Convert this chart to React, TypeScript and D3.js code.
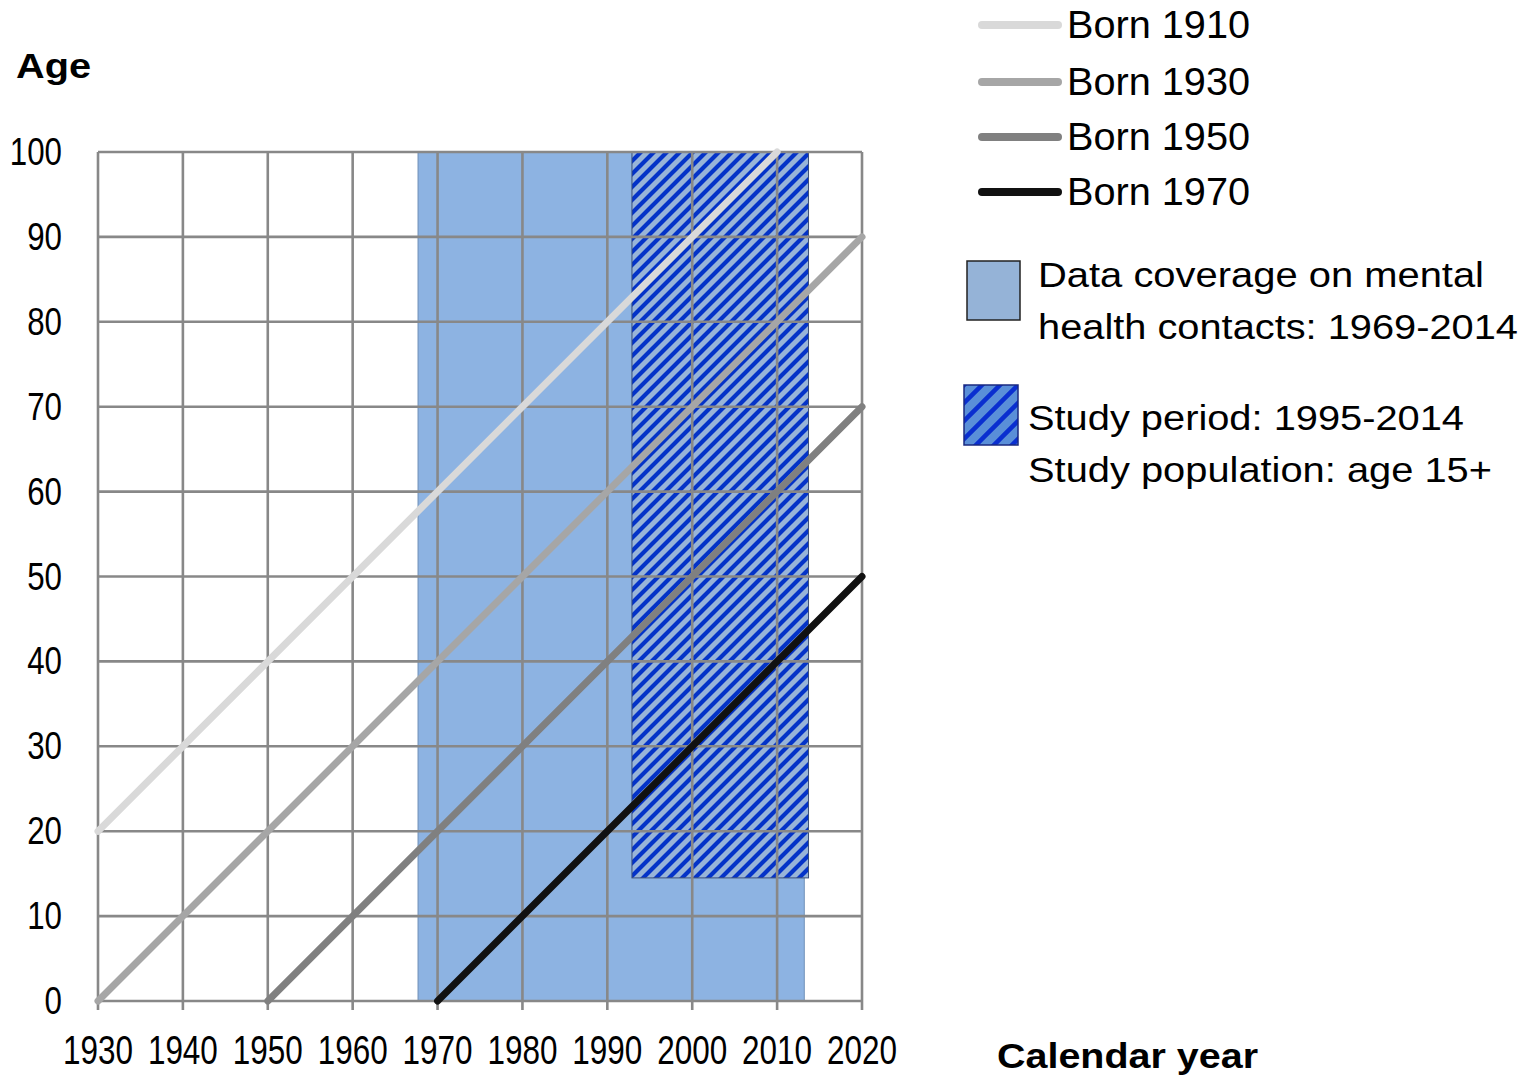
import React from "react";
import * as d3 from "d3";

const xTicks = [1930, 1940, 1950, 1960, 1970, 1980, 1990, 2000, 2010, 2020];
const yTicks = [0, 10, 20, 30, 40, 50, 60, 70, 80, 90, 100];

const cohortLabels = ["Born 1910", "Born 1930", "Born 1950", "Born 1970"];
const born1910: [number, number][] = [[1930, 20], [2010, 100]];
const born1930: [number, number][] = [[1930, 0], [2020, 90]];
const born1950: [number, number][] = [[1950, 0], [2020, 70]];
const born1970: [number, number][] = [[1970, 0], [2020, 50]];
const cohortSeries = [born1910, born1930, born1950, born1970];
const cohortColors = ["#d9d9d9", "#a6a6a6", "#808080", "#111111"];

// shaded regions
const coverageYears = [1967.7, 2013.2];
const coverageAges = [0, 100];
const studyYears = [1992.9, 2013.7];
const studyAges = [14.5, 100];

const coverageLabel = ["Data coverage on mental", "health contacts: 1969-2014"];
const studyLabel = ["Study period: 1995-2014", "Study population: age 15+"];

const FONT = "'Liberation Sans', Arial, sans-serif";

export default function App() {
  const x = d3.scaleLinear().domain([1930, 2020]).range([98, 862]);
  const y = d3.scaleLinear().domain([0, 100]).range([1001, 152]);
  const line = d3
    .line<[number, number]>()
    .x((d) => x(d[0]))
    .y((d) => y(d[1]));

  const tickW = (s: string) => s.length * 17.4;

  return (
    <svg
      width={1534}
      height={1082}
      style={{ position: "absolute", left: 0, top: 0, background: "#fff" }}
      fontFamily={FONT}
    >
      <defs>
        <pattern id="hatch" patternUnits="userSpaceOnUse" width={13} height={13}>
          <rect width={13} height={13} fill="#98b4d8" />
          <path d="M-3,3 L3,-3 M0,13 L13,0 M10,16 L16,10" stroke="#0433c8" strokeWidth={4.2} />
        </pattern>
        <pattern id="hatchLegend" patternUnits="userSpaceOnUse" width={18} height={18} x={964} y={385}>
          <rect width={18} height={18} fill="#5a8fd8" />
          <path d="M-3,3 L3,-3 M0,18 L18,0 M15,21 L21,15" stroke="#0a2fd0" strokeWidth={4.5} />
        </pattern>
      </defs>

      {/* coverage region */}
      <rect
        x={x(coverageYears[0])}
        y={y(coverageAges[1])}
        width={x(coverageYears[1]) - x(coverageYears[0])}
        height={y(coverageAges[0]) - y(coverageAges[1])}
        fill="#8db3e2"
        stroke="#6f8fb8"
        strokeWidth={1}
      />
      {/* study region */}
      <rect
        x={x(studyYears[0])}
        y={y(studyAges[1])}
        width={x(studyYears[1]) - x(studyYears[0])}
        height={y(studyAges[0]) - y(studyAges[1])}
        fill="url(#hatch)"
        stroke="#3a4e78"
        strokeWidth={1}
      />

      {/* grid */}
      <g stroke="#888888" strokeWidth={2.6} fill="none">
        {xTicks.map((t) => (
          <line key={"gx" + t} x1={x(t)} x2={x(t)} y1={y(100)} y2={y(0) + 9} />
        ))}
        {yTicks.map((t) => (
          <line key={"gy" + t} x1={x(1930)} x2={x(2020)} y1={y(t)} y2={y(t)} />
        ))}
      </g>

      {/* cohort lines */}
      {cohortSeries.map((s, i) => (
        <path
          key={cohortLabels[i]}
          d={line(s) || ""}
          stroke={cohortColors[i]}
          strokeWidth={7}
          fill="none"
          strokeLinecap="round"
        />
      ))}

      {/* y tick labels */}
      {yTicks.map((t) => (
        <text
          key={"yl" + t}
          x={62}
          y={y(t) + 13}
          textAnchor="end"
          fontSize={39}
          textLength={tickW(String(t))}
          lengthAdjust="spacingAndGlyphs"
          fill="#000"
        >
          {t}
        </text>
      ))}
      {/* x tick labels */}
      {xTicks.map((t) => (
        <text
          key={"xl" + t}
          x={x(t) - 35}
          y={1064}
          fontSize={41}
          textLength={70}
          lengthAdjust="spacingAndGlyphs"
          fill="#000"
        >
          {t}
        </text>
      ))}

      {/* axis titles */}
      <text x={16} y={78} fontSize={35} fontWeight="bold" textLength={75} lengthAdjust="spacingAndGlyphs">
        Age
      </text>
      <text x={997} y={1068} fontSize={35} fontWeight="bold" textLength={261} lengthAdjust="spacingAndGlyphs">
        Calendar year
      </text>

      {/* legend: cohorts */}
      {cohortLabels.map((lab, i) => {
        const cy = [25, 82, 137, 192][i];
        return (
          <g key={"lg" + lab}>
            <line x1={982} x2={1058} y1={cy} y2={cy} stroke={cohortColors[i]} strokeWidth={8} strokeLinecap="round" />
            <text x={1067} y={cy + 13} fontSize={38} textLength={183} lengthAdjust="spacingAndGlyphs">
              {lab}
            </text>
          </g>
        );
      })}

      {/* legend: coverage */}
      <rect x={967} y={261} width={53} height={59} fill="#95b3d7" stroke="#222" strokeWidth={1.5} />
      <text x={1038} y={287} fontSize={35} textLength={446} lengthAdjust="spacingAndGlyphs">
        {coverageLabel[0]}
      </text>
      <text x={1038} y={339} fontSize={35} textLength={480} lengthAdjust="spacingAndGlyphs">
        {coverageLabel[1]}
      </text>

      {/* legend: study */}
      <rect x={964} y={385} width={54} height={60} fill="url(#hatchLegend)" stroke="#1a2a80" strokeWidth={1.5} />
      <text x={1028} y={430} fontSize={35} textLength={436} lengthAdjust="spacingAndGlyphs">
        {studyLabel[0]}
      </text>
      <text x={1028} y={482} fontSize={35} textLength={464} lengthAdjust="spacingAndGlyphs">
        {studyLabel[1]}
      </text>
    </svg>
  );
}
